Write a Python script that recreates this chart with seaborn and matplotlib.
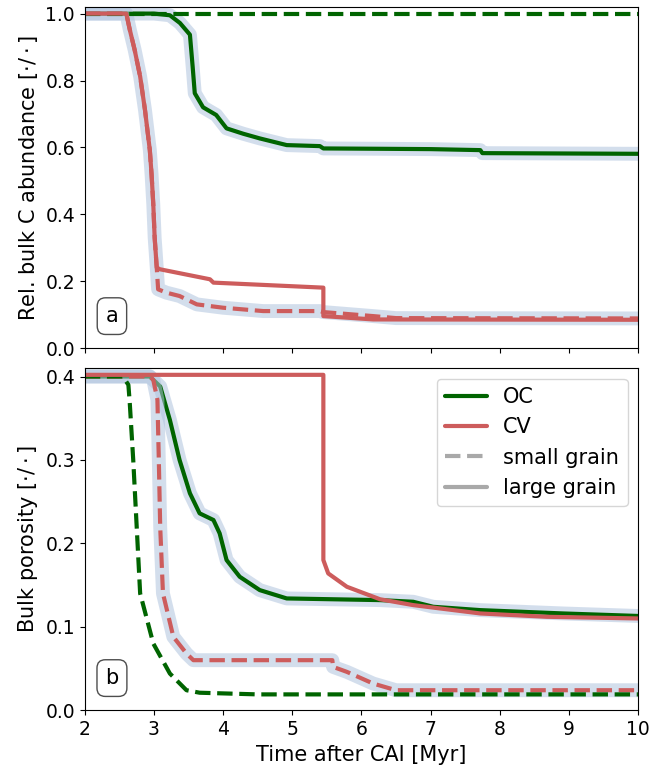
import matplotlib
matplotlib.use("Agg")
import matplotlib.pyplot as plt
import seaborn as sns
from matplotlib.lines import Line2D

# %%
# Carbon abundance (panel a)
t_c_oc_large = [2.0, 3.0, 3.23, 3.375, 3.52, 3.56, 3.59, 3.71, 3.9, 4.05, 4.29, 4.53,
                4.92, 5.40, 5.45, 6.27, 7.0, 7.72, 7.75, 10.0]
c_oc_large = [1.0, 1.0, 0.995, 0.972, 0.937, 0.84, 0.762, 0.72, 0.697, 0.657, 0.641, 0.627,
              0.607, 0.604, 0.597, 0.596, 0.595, 0.592, 0.583, 0.581]

t_c_oc_small = [2.0, 10.0]
c_oc_small = [1.0, 1.0]

t_c_cv_small = [2.0, 2.60, 2.65, 2.72, 2.80, 2.87, 2.94, 2.965, 2.99, 3.01, 3.04, 3.06,
                3.18, 3.37, 3.62, 4.0, 4.58, 5.4, 5.45, 6.17, 6.5, 10.0]
c_cv_small = [1.0, 1.0, 0.952, 0.892, 0.812, 0.712, 0.592, 0.52, 0.43, 0.33, 0.241, 0.176,
              0.166, 0.156, 0.131, 0.121, 0.111, 0.111, 0.108, 0.096, 0.09, 0.089]

t_c_cv_large = [2.0, 2.60, 2.65, 2.72, 2.80, 2.87, 2.94, 2.965, 2.99, 3.01, 3.04, 3.085,
                3.81, 3.86, 5.45, 5.45, 6.17, 10.0]
c_cv_large = [1.0, 1.0, 0.952, 0.892, 0.812, 0.712, 0.592, 0.52, 0.43, 0.33, 0.241, 0.236,
              0.206, 0.196, 0.181, 0.096, 0.086, 0.085]

# %%
# Bulk porosity (panel b)
t_p_oc_large = [2.0, 2.94, 3.09, 3.23, 3.37, 3.52, 3.66, 3.86, 3.95, 4.05, 4.24, 4.53,
                4.92, 6.27, 6.75, 7.04, 7.72, 8.92, 10.0]
p_oc_large = [0.4, 0.4, 0.388, 0.348, 0.30, 0.26, 0.236, 0.228, 0.212, 0.18, 0.16, 0.144,
              0.134, 0.132, 0.13, 0.124, 0.12, 0.116, 0.113]

t_p_oc_small = [2.0, 2.55, 2.63, 2.65, 2.70, 2.75, 2.80, 2.99, 3.23, 3.47, 3.66, 4.5, 10.0]
p_oc_small = [0.4, 0.4, 0.39, 0.368, 0.30, 0.22, 0.14, 0.08, 0.044, 0.024, 0.021, 0.019, 0.019]

t_p_cv_small = [2.0, 2.94, 2.99, 3.05, 3.07, 3.09, 3.13, 3.28, 3.47, 3.57, 5.58, 5.59,
                5.79, 6.17, 6.5, 10.0]
p_cv_small = [0.4, 0.4, 0.396, 0.372, 0.30, 0.22, 0.14, 0.088, 0.068, 0.06, 0.06, 0.052,
              0.046, 0.032, 0.024, 0.024]

t_p_cv_large = [2.0, 5.45, 5.45, 5.52, 5.79, 6.27, 6.75, 7.72, 8.68, 10.0]
p_cv_large = [0.402, 0.402, 0.18, 0.164, 0.148, 0.133, 0.126, 0.116, 0.112, 0.11]

# %%
GREEN = "darkgreen"
RED = "indianred"
HALO = "lightsteelblue"

sns.set_style("ticks", rc={"axes.edgecolor": "black", "text.color": "black",
                           "axes.labelcolor": "black", "xtick.color": "black",
                           "ytick.color": "black"})
plt.rcParams["font.family"] = ["DejaVu Sans"]

fig = plt.figure(figsize=(6.68, 7.67), dpi=100)
ax_a = fig.add_axes([0.127, 0.546, 0.828, 0.445])
ax_b = fig.add_axes([0.127, 0.074, 0.828, 0.446], sharex=ax_a)


def draw(ax, t, y, color, ls, halo=False):
    if halo:
        sns.lineplot(x=t, y=y, ax=ax, color=HALO, lw=10, alpha=0.55,
                     estimator=None, sort=False, solid_capstyle="round")
    sns.lineplot(x=t, y=y, ax=ax, color=color, lw=3, linestyle=ls,
                 estimator=None, sort=False)


# panel a
draw(ax_a, t_c_oc_large, c_oc_large, GREEN, "-", halo=True)
draw(ax_a, t_c_cv_small, c_cv_small, RED, "--", halo=True)
draw(ax_a, t_c_oc_small, c_oc_small, GREEN, "--")
draw(ax_a, t_c_cv_large, c_cv_large, RED, "-")

# panel b
draw(ax_b, t_p_oc_large, p_oc_large, GREEN, "-", halo=True)
draw(ax_b, t_p_cv_small, p_cv_small, RED, "--", halo=True)
draw(ax_b, t_p_oc_small, p_oc_small, GREEN, "--")
draw(ax_b, t_p_cv_large, p_cv_large, RED, "-")

ax_a.set_xlim(2, 10)
ax_a.set_ylim(0, 1.02)
ax_b.set_ylim(0, 0.41)
ax_a.set_yticks([0.0, 0.2, 0.4, 0.6, 0.8, 1.0])
ax_b.set_yticks([0.0, 0.1, 0.2, 0.3, 0.4])
ax_a.tick_params(labelbottom=False, labelsize=13.5)
ax_b.tick_params(labelsize=13.5)

ax_a.set_ylabel(r"Rel. bulk C abundance [$\cdot/\cdot$]", fontsize=15)
ax_b.set_ylabel(r"Bulk porosity [$\cdot/\cdot$]", fontsize=15)
ax_b.set_xlabel("Time after CAI [Myr]", fontsize=15)
ax_a.set_xlabel("")

for ax, lab in [(ax_a, "a"), (ax_b, "b")]:
    ax.text(0.049, 0.094, lab, transform=ax.transAxes, fontsize=15,
            ha="center", va="center",
            bbox=dict(boxstyle="round,pad=0.4", fc="white", ec="0.3"))

handles = [
    Line2D([], [], color=GREEN, lw=3),
    Line2D([], [], color=RED, lw=3),
    Line2D([], [], color="darkgray", lw=3, ls="--"),
    Line2D([], [], color="darkgray", lw=3),
]
ax_b.legend(handles, ["OC", "CV", "small grain", "large grain"],
            loc="upper right", fontsize=15)

fig.savefig("out.png", dpi=100)
